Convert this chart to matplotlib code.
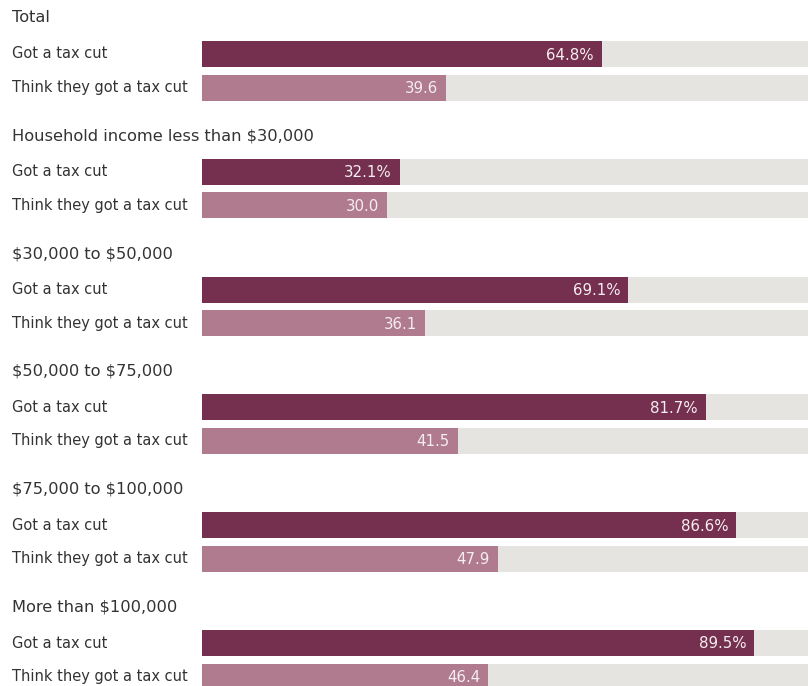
import matplotlib.pyplot as plt
from matplotlib.transforms import blended_transform_factory

groups = ["Total", "Household income less than \\$30,000", "\\$30,000 to \\$50,000",
          "\\$50,000 to \\$75,000", "\\$75,000 to \\$100,000", "More than \\$100,000"]
got_cut = [64.8, 32.1, 69.1, 81.7, 86.6, 89.5]
think_cut = [39.6, 30.0, 36.1, 41.5, 47.9, 46.4]
row_labels = ["Got a tax cut", "Think they got a tax cut"]

dark = "#76304f"
light = "#b07a8f"
track = "#e6e4e1"
txt = "#333333"

W, H = 808, 686
fig = plt.figure(figsize=(W / 100, H / 100), dpi=100)
left = 202 / W
ax = fig.add_axes([left, 0, 1 - left, 1])
ax.set_xlim(0, (W - 202) / 6.17)
ax.set_ylim(H, 0)
ax.axis("off")

lab = blended_transform_factory(fig.transFigure, ax.transData)
step = 117.8
bh = 26

for i, g in enumerate(groups):
    top = 18 + step * i
    ax.text(12 / W, top, g, transform=lab, ha="left", va="center", fontsize=11.7, color=txt)
    for j, (v, c) in enumerate([(got_cut[i], dark), (think_cut[i], light)]):
        y = top + 36 + 33.5 * j
        ax.barh(y, 100, height=bh, color=track, left=0)
        ax.barh(y, v, height=bh, color=c, left=0)
        s = f"{v:.1f}%" if j == 0 else f"{v:.1f}"
        ax.text(v - 1.3, y + 1, s, ha="right", va="center", fontsize=10.8, color="#f4eef0")
        ax.text(12 / W, y, row_labels[j], transform=lab, ha="left", va="center",
                fontsize=10.5, color=txt)

fig.savefig("out.png", dpi=100)
